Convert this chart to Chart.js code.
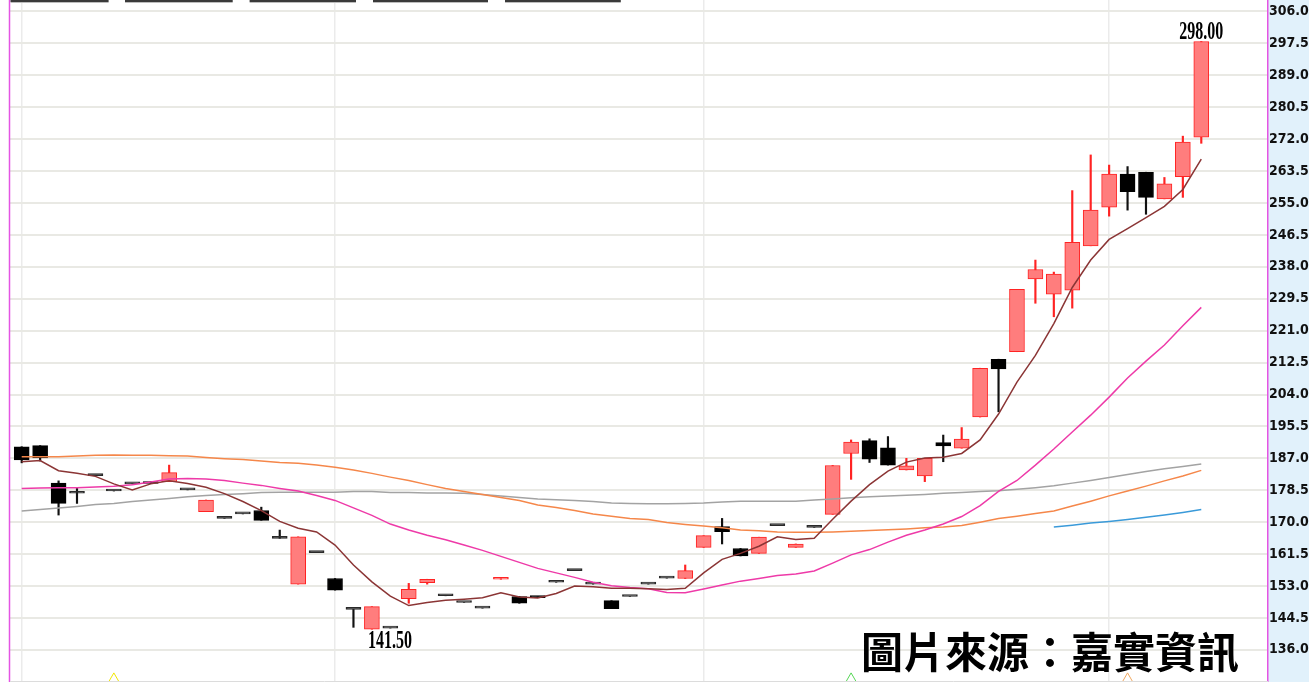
<!DOCTYPE html>
<html>
<head>
<meta charset="utf-8">
<script src="https://cdn.jsdelivr.net/npm/chart.js@4.4.1/dist/chart.umd.min.js"></script>
<style>
html, body { margin: 0; padding: 0; background: #fff; }
#wrap { width: 1309px; height: 682px; }
</style>
</head>
<body>
<div id="wrap"><canvas id="kChart" width="1309" height="682"></canvas></div>
<script>
// daily candles, oldest first
const openP  = [190.1, 190.4, 180.4, 177.7, 182.4, 178.3, 180.2, 180.7, 180.8, 178.6,
                172.8, 171.0, 172.2, 173.1, 165.7, 153.5, 161.9, 155.0, 146.8, 141.5,
                141.8, 149.6, 153.9, 150.4, 148.6, 147.1, 154.8, 150.2, 150.1, 154.0,
                157.1, 153.5, 149.1, 150.2, 153.5, 155.1, 155.0, 163.3, 168.8, 163.0,
                161.7, 169.1, 163.3, 168.6, 172.1, 188.3, 191.7, 189.8, 183.9, 182.3,
                191.2, 189.7, 198.0, 213.4, 215.4, 234.8, 230.7, 231.8, 243.6, 253.9,
                262.7, 263.2, 256.1, 262.0, 272.5];
const highP  = [190.1, 190.4, 181.0, 179.0, 182.4, 178.3, 180.2, 180.7, 185.2, 178.6,
                175.9, 171.0, 172.2, 174.0, 167.9, 166.1, 161.9, 155.0, 146.8, 147.5,
                141.8, 153.7, 154.8, 150.4, 148.6, 147.1, 155.2, 150.2, 150.1, 154.0,
                157.1, 153.5, 149.1, 150.2, 153.5, 155.1, 158.6, 166.4, 171.0, 163.0,
                166.0, 169.1, 164.2, 168.6, 185.1, 191.9, 192.2, 192.8, 187.0, 187.0,
                193.2, 195.2, 211.0, 213.4, 232.0, 239.8, 236.6, 258.3, 267.8, 265.1,
                264.7, 263.2, 261.8, 272.8, 298.0];
const lowP   = [185.8, 186.3, 171.9, 175.0, 182.4, 178.3, 180.2, 180.3, 180.8, 178.6,
                172.8, 171.0, 172.2, 170.5, 165.7, 153.5, 161.9, 151.9, 142.0, 141.5,
                141.8, 148.4, 153.5, 150.4, 148.6, 147.1, 154.8, 148.4, 149.9, 154.0,
                157.1, 153.5, 147.0, 150.2, 153.5, 155.1, 155.0, 163.3, 164.2, 161.0,
                161.7, 169.1, 163.3, 168.6, 172.1, 181.4, 185.9, 185.2, 183.9, 180.8,
                186.1, 189.7, 198.0, 199.4, 215.4, 228.3, 224.7, 227.0, 243.6, 251.5,
                253.1, 252.0, 256.1, 256.5, 270.9];
const closeP = [186.6, 187.1, 175.0, 177.7, 182.4, 178.3, 180.2, 180.3, 183.2, 178.6,
                175.9, 171.0, 172.2, 170.5, 165.7, 166.1, 161.9, 151.9, 146.8, 147.5,
                141.8, 152.1, 154.8, 150.4, 148.6, 147.1, 155.2, 148.4, 149.9, 154.0,
                157.1, 153.5, 147.0, 150.2, 153.5, 155.1, 157.1, 166.4, 167.5, 161.0,
                166.0, 169.1, 164.2, 168.6, 185.1, 191.3, 186.8, 185.2, 185.0, 187.0,
                190.3, 192.1, 211.0, 210.8, 232.0, 237.3, 236.1, 244.5, 253.1, 262.7,
                258.0, 256.5, 260.1, 271.2, 298.0];

// moving averages
const ma5   = [186.1, 186.4, 183.7, 183.0, 182.2, 180.2, 178.6, 180.2, 181.0, 180.3,
               179.3, 177.6, 175.5, 173.1, 170.2, 168.4, 167.4, 163.9, 158.6, 154.1,
               150.3, 147.8, 148.6, 149.2, 149.5, 149.9, 151.2, 150.1, 149.8, 151.0,
               153.0, 152.8, 152.4, 152.4, 152.3, 152.1, 152.4, 156.5, 160.1, 161.7,
               163.6, 166.1, 165.4, 165.7, 170.8, 175.6, 180.0, 183.6, 186.0, 187.1,
               187.3, 188.3, 191.9, 198.8, 207.3, 214.4, 222.9, 232.5, 239.8, 245.3,
               248.2, 251.1, 254.1, 258.6, 266.7];
const ma20  = [179.0, 179.1, 179.2, 179.2, 179.4, 179.6, 180.0, 180.7, 181.5, 181.6,
               181.5, 181.1, 180.4, 179.8, 179.0, 178.3, 177.1, 175.8, 173.8, 171.8,
               169.5, 167.9, 166.5, 165.3, 163.9, 162.5, 160.9, 159.3, 157.7, 156.5,
               155.3, 154.0, 153.1, 152.6, 152.3, 151.3, 151.2, 152.2, 153.3, 154.3,
               155.0, 155.8, 156.2, 157.0, 159.1, 161.3, 162.7, 164.7, 166.5, 167.9,
               169.5, 171.5, 174.4, 178.2, 181.1, 185.2, 189.5, 194.0, 198.5, 203.3,
               208.4, 212.9, 217.2, 222.3, 227.2];
const ma60  = [187.4, 187.4, 187.4, 187.6, 187.8, 187.9, 187.8, 187.8, 187.7, 187.6,
               187.2, 186.9, 186.7, 186.3, 185.9, 185.7, 185.2, 184.6, 183.9, 183.0,
               182.0, 181.1, 180.0, 179.0, 178.2, 177.4, 176.6, 175.8, 174.6, 173.9,
               173.1, 172.2, 171.6, 171.0, 170.7, 169.9, 169.4, 169.0, 168.5, 167.9,
               167.7, 167.4, 167.3, 167.3, 167.4, 167.6, 167.8, 168.0, 168.2, 168.5,
               168.7, 169.1, 170.0, 171.0, 171.6, 172.3, 173.0, 174.3, 175.6, 177.0,
               178.3, 179.6, 181.0, 182.3, 183.8];
const ma120 = [173.0, 173.4, 173.8, 174.2, 174.7, 175.0, 175.5, 175.9, 176.3, 176.8,
               177.1, 177.4, 177.6, 177.9, 178.0, 178.0, 178.0, 178.0, 178.2, 178.2,
               177.9, 177.9, 177.8, 177.8, 177.7, 177.4, 177.0, 176.6, 176.2, 176.0,
               175.8, 175.5, 175.1, 175.0, 174.9, 174.9, 175.0, 175.1, 175.4, 175.6,
               175.6, 175.6, 175.6, 175.9, 176.2, 176.5, 176.8, 177.0, 177.2, 177.4,
               177.7, 177.9, 178.2, 178.4, 178.8, 179.2, 179.7, 180.4, 181.1, 181.9,
               182.7, 183.5, 184.2, 184.8, 185.5];
const ma240Start = 56;
const ma240 = [168.7, 169.2, 169.8, 170.2, 170.7, 171.3, 171.9, 172.6, 173.4];

const yTicks = [136.0, 144.5, 153.0, 161.5, 170.0, 178.5, 187.0, 195.5, 204.0, 212.5, 221.0,
                229.5, 238.0, 246.5, 255.0, 263.5, 272.0, 280.5, 289.0, 297.5, 306.0];
const monthStart = [0, 17, 37, 59];
const signalIdx = [5, 45, 60];
const signalLevel = 128.0;

const idx = closeP.map((_, i) => i);
const isUp = idx.map(i => closeP[i] > openP[i]);
const isDown = idx.map(i => closeP[i] < openP[i]);

const bodyFill = idx.map(i => isUp[i] ? '#ff7d7d' : (isDown[i] ? '#000000' : '#2a2a2a'));
const bodyLine = idx.map(i => isUp[i] ? '#ff2323' : (isDown[i] ? '#000000' : '#2a2a2a'));
const wickColor = idx.map(i => isUp[i] ? '#ff2323' : '#111111');

const decor = {
    id: 'decor',
    beforeDraw(chart) {
        const { ctx, chartArea, width, height } = chart;
        ctx.save();
        ctx.fillStyle = '#ffffff';
        ctx.fillRect(0, 0, width, height);
        ctx.fillStyle = '#e1f1fb';
        ctx.fillRect(chartArea.right, 0, width - chartArea.right, height);
        ctx.restore();
    },
    afterDraw(chart) {
        const { ctx, chartArea } = chart;
        const xs = chart.scales.x, ys = chart.scales.y;
        ctx.save();
        // left border
        ctx.strokeStyle = '#e455e4';
        ctx.lineWidth = 1.5;
        ctx.beginPath();
        ctx.moveTo(chartArea.left - 0.5, 0);
        ctx.lineTo(chartArea.left - 0.5, chartArea.bottom);
        ctx.stroke();
        // bottom edge
        ctx.strokeStyle = '#dcdcdc';
        ctx.lineWidth = 1;
        ctx.beginPath();
        ctx.moveTo(chartArea.left, chartArea.bottom - 0.5);
        ctx.lineTo(chartArea.right, chartArea.bottom - 0.5);
        ctx.stroke();
        // cut-off legend strip at top
        [[10.5, 108.6], [125, 232.7], [249.6, 356], [373, 488], [505, 620.8]].forEach(([a, b]) => {
            ctx.fillStyle = '#3a3a3a';
            ctx.fillRect(a, 0, b - a, 2);
            ctx.fillStyle = '#bdbdbd';
            ctx.fillRect(a, 2, b - a, 1);
        });
        // highest / lowest price labels
        const hiIdx = highP.indexOf(Math.max(...highP));
        const loIdx = lowP.indexOf(Math.min(...lowP));
        ctx.fillStyle = '#000000';
        ctx.font = 'bold 25px "Liberation Serif"';
        ctx.textAlign = 'center';
        ctx.textBaseline = 'alphabetic';
        ctx.save();
        ctx.translate(xs.getPixelForValue(hiIdx), ys.getPixelForValue(highP[hiIdx]) - 3);
        ctx.scale(0.64, 1);
        ctx.fillText(highP[hiIdx].toFixed(2), 0, 0);
        ctx.restore();
        ctx.save();
        ctx.translate(xs.getPixelForValue(loIdx) + 18, ys.getPixelForValue(lowP[loIdx]) + 19);
        ctx.scale(0.64, 1);
        ctx.fillText(lowP[loIdx].toFixed(2), 0, 0);
        ctx.restore();
        // source watermark
        ctx.fillStyle = '#000000';
        ctx.font = 'bold 42px "Noto Sans CJK TC"';
        ctx.textAlign = 'left';
        ctx.textBaseline = 'middle';
        ctx.fillText('圖片來源：嘉實資訊', 861, 652);
        ctx.restore();
    }
};

const lineSet = (label, values, color, start = 0) => ({
    type: 'line',
    label: label,
    data: values.map((v, i) => ({ x: i + start, y: v })),
    borderColor: color,
    borderWidth: 1.5,
    pointRadius: 0,
    tension: 0,
    order: 0
});

new Chart(document.getElementById('kChart'), {
    type: 'bar',
    data: {
        datasets: [
            lineSet('MA5', ma5, '#8b3535'),
            lineSet('MA20', ma20, '#ee3aa8'),
            lineSet('MA60', ma60, '#f5874a'),
            lineSet('MA120', ma120, '#a3a3a3'),
            lineSet('MA240', ma240, '#3a9ad9', ma240Start),
            {
                type: 'line',
                label: 'signal',
                data: signalIdx.map(i => ({ x: i, y: signalLevel })),
                showLine: false,
                pointStyle: 'triangle',
                pointRadius: 7,
                pointBorderWidth: 1,
                pointBackgroundColor: 'rgba(0,0,0,0)',
                pointBorderColor: ['#f2e600', '#55d655', '#f0a860'],
                order: 0
            },
            {
                label: 'body',
                data: idx.map(i => ({ x: i, y: [openP[i], closeP[i]] })),
                backgroundColor: bodyFill,
                borderColor: bodyLine,
                borderWidth: 1,
                borderSkipped: false,
                barThickness: 15,
                minBarLength: 2,
                grouped: false,
                order: 1
            },
            {
                label: 'wick',
                data: idx.map(i => ({ x: i, y: [lowP[i], highP[i]] })),
                backgroundColor: wickColor,
                borderWidth: 0,
                barThickness: 1.5,
                grouped: false,
                order: 2
            }
        ]
    },
    options: {
        responsive: false,
        animation: false,
        layout: { autoPadding: false, padding: { left: 10, right: 0, top: 0, bottom: 0 } },
        plugins: {
            legend: { display: false },
            tooltip: { enabled: false }
        },
        scales: {
            x: {
                type: 'linear',
                min: -0.635,
                max: 67.62,
                offset: false,
                ticks: { display: false },
                border: { display: false },
                grid: { color: '#ebebeb', lineWidth: 1.5, drawTicks: false, offset: false },
                afterBuildTicks: (s) => { s.ticks = monthStart.map(v => ({ value: v })); },
                afterFit: (s) => { s.height = 0; s.paddingLeft = 0; s.paddingRight = 0; }
            },
            y: {
                type: 'linear',
                position: 'right',
                min: 127.44,
                max: 309.06,
                grid: { color: '#e9e9e4', lineWidth: 2, drawTicks: false },
                border: { color: '#e455e4', width: 1.5 },
                ticks: {
                    padding: 1,
                    color: '#111111',
                    font: { family: 'DejaVu Sans Condensed', size: 14, weight: 'bold', lineHeight: 0.05 },
                    callback: (v) => Number(v).toFixed(1)
                },
                afterBuildTicks: (s) => { s.ticks = yTicks.map(v => ({ value: v })); },
                afterFit: (s) => { s.width = 41; s.paddingTop = 0; s.paddingBottom = 0; }
            }
        }
    },
    plugins: [decor]
});
</script>
</body>
</html>
